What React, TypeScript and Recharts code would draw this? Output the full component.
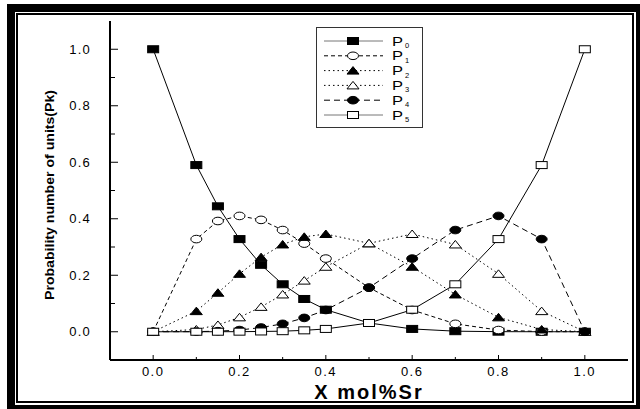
import React from 'react';
import { LineChart, Line, XAxis, YAxis, Legend } from 'recharts';

// Sr content (x) and probabilities of units P0..P5
const xMol = [0, 0.1, 0.15, 0.2, 0.25, 0.3, 0.35, 0.4, 0.5, 0.6, 0.7, 0.8, 0.9, 1.0];
const p0 = [1.0, 0.59, 0.444, 0.328, 0.237, 0.168, 0.116, 0.078, 0.031, 0.01, 0.002, 0.0003, 0, 0];
const p1 = [0, 0.328, 0.392, 0.41, 0.396, 0.36, 0.312, 0.259, 0.156, 0.077, 0.028, 0.006, 0.0005, 0];
const p2 = [0, 0.073, 0.138, 0.205, 0.264, 0.309, 0.336, 0.346, 0.313, 0.23, 0.132, 0.051, 0.008, 0];
const p3 = [0, 0.008, 0.024, 0.051, 0.088, 0.132, 0.181, 0.23, 0.313, 0.346, 0.309, 0.205, 0.073, 0];
const p4 = [0, 0.0005, 0.002, 0.006, 0.015, 0.028, 0.049, 0.077, 0.156, 0.259, 0.36, 0.41, 0.328, 0];
const p5 = [0, 0, 0.0001, 0.0003, 0.001, 0.002, 0.005, 0.01, 0.031, 0.078, 0.168, 0.328, 0.59, 1.0];

const xTicks = [0, 0.1, 0.2, 0.3, 0.4, 0.5, 0.6, 0.7, 0.8, 0.9, 1.0];
const yTicks = [0, 0.1, 0.2, 0.3, 0.4, 0.5, 0.6, 0.7, 0.8, 0.9, 1.0];

const FONT = "'Liberation Sans', Arial, sans-serif";

type Shape = 'square' | 'circle' | 'triangle';

const SERIES: { key: string; sub: string; values: number[]; dash?: string; shape: Shape; filled: boolean }[] = [
    { key: 'p0', sub: '0', values: p0, shape: 'square', filled: true },
    { key: 'p1', sub: '1', values: p1, dash: '4 3', shape: 'circle', filled: false },
    { key: 'p2', sub: '2', values: p2, dash: '1.5 3', shape: 'triangle', filled: true },
    { key: 'p3', sub: '3', values: p3, dash: '1.5 3', shape: 'triangle', filled: false },
    { key: 'p4', sub: '4', values: p4, dash: '6 4', shape: 'circle', filled: true },
    { key: 'p5', sub: '5', values: p5, shape: 'square', filled: false },
];

const data = xMol.map((x, i) => {
    const row: Record<string, number> = { x };
    SERIES.forEach((s) => { row[s.key] = s.values[i]; });
    return row;
});

const Marker = ({ cx, cy, shape, filled }: { cx: number; cy: number; shape: Shape; filled: boolean }) => {
    const fill = filled ? '#000' : '#fff';
    if (shape === 'square') {
        return <rect x={cx - 5.5} y={cy - 3.5} width={11} height={7} fill={fill} stroke="#000" strokeWidth={1} />;
    }
    if (shape === 'circle') {
        return <ellipse cx={cx} cy={cy} rx={5.5} ry={3.8} fill={fill} stroke="#000" strokeWidth={1} />;
    }
    return <polygon points={`${cx - 6},${cy + 3.5} ${cx + 6},${cy + 3.5} ${cx},${cy - 4}`} fill={fill} stroke="#000" strokeWidth={1} />;
};

const isMajor = (v: number) => Math.round(v * 10) % 2 === 0;

const YTick = (props: any) => {
    const { x, y, payload } = props;
    const major = isMajor(payload.value);
    return (
        <g>
            <line x1={x} x2={x + (major ? 8 : 5)} y1={y} y2={y} stroke="#000" strokeWidth={1} />
            {major && (
                <text x={x - 19} y={y} dy="0.35em" textAnchor="end" fontSize={13} letterSpacing={1.2} fill="#000" fontFamily={FONT}>
                    {payload.value.toFixed(1)}
                </text>
            )}
        </g>
    );
};

const XTick = (props: any) => {
    const { x, y, payload } = props;
    const major = isMajor(payload.value);
    return (
        <g>
            <line x1={x} x2={x} y1={y} y2={y - (major ? 5 : 3)} stroke="#000" strokeWidth={1} />
            {major && (
                <text x={x} y={y + 16} textAnchor="middle" fontSize={13} letterSpacing={1.5} fill="#000" fontFamily={FONT}>
                    {payload.value.toFixed(1)}
                </text>
            )}
        </g>
    );
};

const LegendBox = () => (
    <svg width={107} height={101} style={{ display: 'block' }}>
        <rect x={0.5} y={0.5} width={106} height={100} fill="#fff" stroke="#333" strokeWidth={1} />
        {SERIES.map((s, i) => {
            const cy = 14 + i * 14.8;
            return (
                <g key={s.key}>
                    <line x1={8} x2={67} y1={cy} y2={cy} stroke={s.dash ? '#000' : '#777'} strokeWidth={1} strokeDasharray={s.dash} />
                    <Marker cx={37} cy={cy} shape={s.shape} filled={s.filled} />
                    <text x={76} y={cy + 4.5} fontSize={12.5} textLength={11} lengthAdjust="spacingAndGlyphs" fill="#000" fontFamily={FONT}>P</text>
                    <text x={89} y={cy + 7} fontSize={7.5} fill="#000" fontFamily={FONT}>{s.sub}</text>
                </g>
            );
        })}
    </svg>
);

const App = () => {
    return (
        <div style={{ position: 'fixed', left: 0, top: 0, width: 640, height: 409, background: '#fff', overflow: 'hidden', fontFamily: FONT }}>
            {/* double frame around the figure */}
            <div style={{ position: 'absolute', left: 7, top: 4, width: 637, height: 409, border: '8px solid #000', boxSizing: 'border-box' }} />
            <div style={{ position: 'absolute', left: 16, top: 13, width: 618, height: 390, border: '2px solid #000', boxSizing: 'border-box' }} />
            <div style={{ position: 'absolute', left: 0, top: 0 }}>
                <LineChart width={640} height={409} data={data} margin={{ top: 21, right: 12, bottom: 0, left: 0 }}>
                    <XAxis
                        dataKey="x"
                        type="number"
                        domain={[-0.1, 1.1]}
                        ticks={xTicks}
                        height={49}
                        tickSize={0}
                        tickMargin={0}
                        tickLine={false}
                        tick={<XTick />}
                        axisLine={{ stroke: '#000', strokeWidth: 2 }}
                        allowDataOverflow
                        label={{
                            content: () => (
                                <text x={369} y={399} textAnchor="middle" fontSize={20} fontWeight="bold" letterSpacing={2} fill="#000" fontFamily={FONT}>
                                    X mol%Sr
                                </text>
                            ),
                        }}
                    />
                    <XAxis xAxisId="top" orientation="top" dataKey="x" type="number" domain={[-0.1, 1.1]} height={0} tick={false} tickLine={false} axisLine={{ stroke: '#444', strokeWidth: 1 }} />
                    <YAxis
                        type="number"
                        domain={[-0.1, 1.1]}
                        ticks={yTicks}
                        width={110}
                        tickSize={0}
                        tickMargin={0}
                        tickLine={false}
                        tick={<YTick />}
                        axisLine={{ stroke: '#000', strokeWidth: 2 }}
                        allowDataOverflow
                        label={{
                            content: () => (
                                <text
                                    x={49.5}
                                    y={195}
                                    transform="rotate(-90 49.5 195)"
                                    textAnchor="middle"
                                    dy="0.35em"
                                    fontSize={13}
                                    fontWeight={900}
                                    textLength={210}
                                    lengthAdjust="spacingAndGlyphs"
                                    fill="#000"
                                    fontFamily={FONT}
                                >
                                    Probability number of units(Pk)
                                </text>
                            ),
                        }}
                    />
                    <YAxis yAxisId="right" orientation="right" type="number" domain={[-0.1, 1.1]} width={0} tick={false} tickLine={false} axisLine={{ stroke: '#444', strokeWidth: 1 }} />
                    <Legend
                        layout="vertical"
                        align="center"
                        verticalAlign="middle"
                        content={<LegendBox />}
                        wrapperStyle={{ left: 316, top: 27, width: 107, height: 101 }}
                    />
                    {SERIES.map((s) => (
                        <Line
                            key={s.key}
                            dataKey={s.key}
                            type="linear"
                            stroke="#000"
                            strokeWidth={1}
                            strokeDasharray={s.dash}
                            isAnimationActive={false}
                            dot={(props: any) => (
                                <Marker key={`${s.key}-${props.index}`} cx={props.cx} cy={props.cy} shape={s.shape} filled={s.filled} />
                            )}
                            activeDot={false}
                        />
                    ))}
                </LineChart>
            </div>
        </div>
    );
};

export default App;
